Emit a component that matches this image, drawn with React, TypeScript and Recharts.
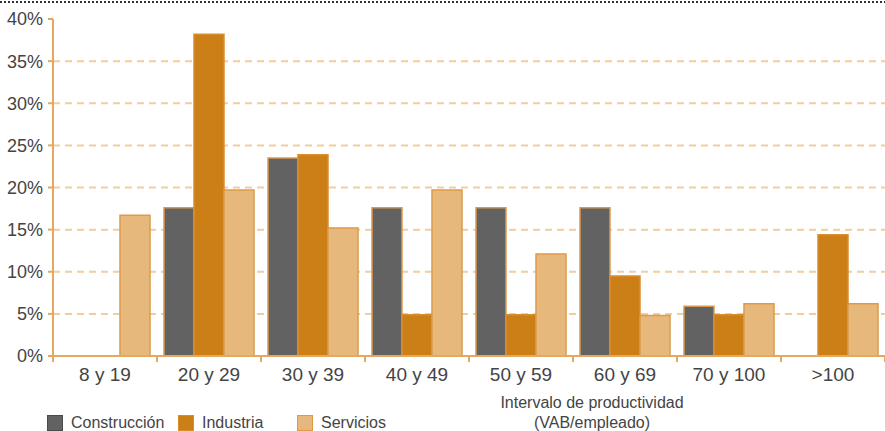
import React from "react"
import { BarChart, Bar, XAxis, YAxis, CartesianGrid, Legend } from "recharts"

const categories = ["8 y 19", "20 y 29", "30 y 39", "40 y 49", "50 y 59", "60 y 69", "70 y 100", ">100"]
const construccion = [0, 17.6, 23.5, 17.6, 17.6, 17.6, 5.9, 0]
const industria = [0, 38.2, 23.9, 4.9, 4.9, 9.5, 4.9, 14.4]
const servicios = [16.7, 19.7, 15.2, 19.7, 12.1, 4.8, 6.2, 6.2]
const yTicks = [0, 5, 10, 15, 20, 25, 30, 35, 40]
const gridValues = [5, 10, 15, 20, 25, 30, 35]

const data = categories.map((name, i) => ({
  name,
  construccion: construccion[i],
  industria: industria[i],
  servicios: servicios[i],
}))

const SERIES = [
  { key: "construccion", label: "Construcción", fill: "#626262", stroke: "#d99a50" },
  { key: "industria", label: "Industria", fill: "#cd7f17", stroke: "#d88d2e" },
  { key: "servicios", label: "Servicios", fill: "#e7b87c", stroke: "#dd9a4a" },
]

const W = 885
const H = 431
const AXIS = "#e4a860"
const FONT = '"Liberation Sans", Arial, sans-serif'
const TEXT = "#444"
const halfBand = (W - 53) / categories.length / 2

const XTick = (props: any) => {
  const { x, y, payload, index } = props
  return (
    <g>
      <line x1={x - halfBand} x2={x - halfBand} y1={y} y2={y + 6} stroke={AXIS} strokeWidth={2} />
      {index === categories.length - 1 && (
        <line x1={x + halfBand} x2={x + halfBand} y1={y} y2={y + 6} stroke={AXIS} strokeWidth={2} />
      )}
      <text x={x} y={y + 25} textAnchor="middle" fontSize={19} fill={TEXT} fontFamily={FONT}>
        {payload.value}
      </text>
    </g>
  )
}

const LegendContent = () => (
  <div style={{ display: "flex", fontFamily: FONT, fontSize: 16, color: TEXT }}>
    {SERIES.map((s, i) => (
      <div key={s.key} style={{ display: "flex", alignItems: "center", width: i === 0 ? 131 : 119 }}>
        <span
          style={{
            display: "inline-block",
            width: 14,
            height: 14,
            background: s.fill,
            border: `1px solid ${i === 0 ? "#4a4a4a" : s.stroke}`,
            marginRight: 8,
          }}
        />
        <span>{s.label}</span>
      </div>
    ))}
  </div>
)

export default function App() {
  return (
    <div style={{ position: "absolute", left: 0, top: 0, width: W, height: H, background: "#fff" }}>
      <svg width={W} height={4} style={{ position: "absolute", left: 0, top: 0 }}>
        <line x1={0} x2={W} y1={2} y2={2} stroke="#333" strokeWidth={2} strokeDasharray="2 2" />
      </svg>
      <BarChart
        width={W}
        height={H}
        data={data}
        margin={{ top: 19, right: 0, left: 0, bottom: 0 }}
        barCategoryGap={7}
        barGap={0}
      >
        <CartesianGrid
          vertical={false}
          horizontalValues={gridValues}
          stroke="#f2cda0"
          strokeWidth={2}
          strokeDasharray="7 5"
        />
        <XAxis
          dataKey="name"
          height={75}
          interval={0}
          tickLine={false}
          tickSize={0}
          tickMargin={0}
          axisLine={{ stroke: AXIS, strokeWidth: 2 }}
          tick={<XTick />}
        />
        <YAxis
          width={53}
          domain={[0, 40]}
          ticks={yTicks}
          interval={0}
          tickFormatter={(v) => `${v}%`}
          axisLine={{ stroke: AXIS, strokeWidth: 2 }}
          tickLine={{ stroke: AXIS, strokeWidth: 2 }}
          tickSize={5}
          tickMargin={5}
          tick={{ fontSize: 18, fill: TEXT, fontFamily: FONT }}
        />
        <Legend
          verticalAlign="middle"
          content={<LegendContent />}
          wrapperStyle={{ position: "absolute", top: 414, left: 47, width: 400 }}
        />
        {SERIES.map((s) => (
          <Bar
            key={s.key}
            dataKey={s.key}
            name={s.label}
            fill={s.fill}
            stroke={s.stroke}
            strokeWidth={1.5}
            isAnimationActive={false}
          />
        ))}
      </BarChart>
      <div
        style={{
          position: "absolute",
          left: 492,
          top: 393,
          width: 200,
          textAlign: "center",
          fontFamily: FONT,
          fontSize: 16,
          lineHeight: "20px",
          color: TEXT,
        }}
      >
        Intervalo de productividad
        <br />
        (VAB/empleado)
      </div>
    </div>
  )
}
